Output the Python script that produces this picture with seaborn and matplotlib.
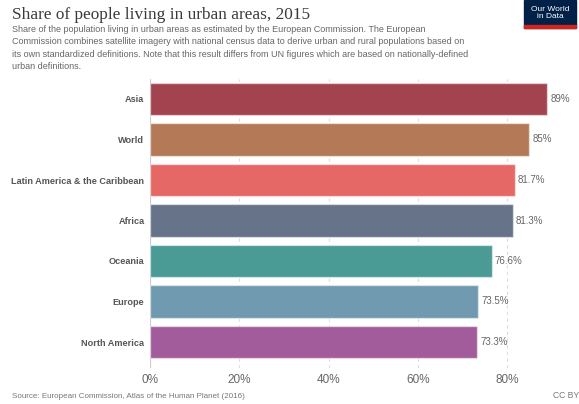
import matplotlib
matplotlib.use("Agg")
import matplotlib.pyplot as plt
import seaborn as sns
import pandas as pd
from matplotlib.patches import Rectangle

regions = ["Asia", "World", "Latin America & the Caribbean", "Africa",
           "Oceania", "Europe", "North America"]
urban_share = [89.0, 85.0, 81.7, 81.3, 76.6, 73.5, 73.3]
value_labels = ["89%", "85%", "81.7%", "81.3%", "76.6%", "73.5%", "73.3%"]
bar_colors = ["#a2434f", "#b47a58", "#e56866", "#667389",
              "#4a9a96", "#6f9ab0", "#a25c9c"]
tick_values = [0, 20, 40, 60, 80]
tick_labels = ["0%", "20%", "40%", "60%", "80%"]

df = pd.DataFrame({"region": regions, "share": urban_share})

sns.set_theme(style="white")
plt.rcParams["font.family"] = ["Liberation Sans", "DejaVu Sans"]

W, H = 579, 404
fig = plt.figure(figsize=(W / 100, H / 100), dpi=100)

# axes placement in pixel terms
left_px, right_px = 150, 555
top_px, bot_px = 79, 368
ax = fig.add_axes([left_px / W, 1 - bot_px / H,
                   (right_px - left_px) / W, (bot_px - top_px) / H])

sns.barplot(data=df, x="share", y="region", hue="region", palette=bar_colors,
            legend=False, orient="h", width=0.81, ax=ax, zorder=3,
            saturation=1, linewidth=1.0, edgecolor="#ffffff80")

px_per_unit = (507 - 150) / 80.0
ax.set_xlim(0, (right_px - left_px) / px_per_unit)
band = 40.5
ax.set_ylim((bot_px - 99) / band, (top_px - 99) / band)

for i, (v, lab) in enumerate(zip(urban_share, value_labels)):
    ax.text(v + 0.7, i, lab, va="center", ha="left", fontsize=7,
            color="#666666", clip_on=False)

ax.set_xticks(tick_values)
ax.set_xticklabels(tick_labels, fontsize=8.5, color="#666666")
ax.tick_params(axis="x", length=0, pad=4)
ax.tick_params(axis="y", length=0, pad=4)
for t in ax.get_yticklabels():
    t.set_fontweight("bold")
    t.set_fontsize(6.6)
    t.set_color("#555555")
ax.set_xlabel("")
ax.set_ylabel("")
for s in ax.spines.values():
    s.set_visible(False)
ax.grid(axis="x", color="#dddddd", linestyle=(0, (3, 3)), linewidth=0.8, zorder=0)
ax.grid(axis="y", visible=False)
ax.axvline(0, color="#cccccc", linewidth=0.8, zorder=1)

# title block
fig.text(12 / W, 1 - 15 / H, "Share of people living in urban areas, 2015",
         fontsize=12.4, family=["Liberation Serif", "DejaVu Serif"],
         color="#3a3a3a", va="center", ha="left")
subtitle = ("Share of the population living in urban areas as estimated by the European Commission. The European\n"
            "Commission combines satellite imagery with national census data to derive urban and rural populations based on\n"
            "its own standardized definitions. Note that this result differs from UN figures which are based on nationally-defined\n"
            "urban definitions.")
fig.text(12 / W, 1 - 25 / H, subtitle, fontsize=6.5, color="#666666",
         va="top", ha="left", linespacing=1.48)

# logo
lx, ly, lw, lh = 524, 0, 52, 28
fig.patches.append(Rectangle((lx / W, 1 - (ly + lh) / H), lw / W, lh / H,
                             transform=fig.transFigure, color="#002147", zorder=5))
fig.patches.append(Rectangle((lx / W, 1 - (ly + lh) / H), lw / W, 3 / H,
                             transform=fig.transFigure, color="#ce261e", zorder=6))
fig.text((lx + lw / 2) / W, 1 - 13 / H, "Our World\nin Data", fontsize=6,
         color="white", ha="center", va="center", linespacing=1.0, zorder=7)

# footer
fig.text(12 / W, 1 - 396 / H, "Source: European Commission, Atlas of the Human Planet (2016)",
         fontsize=5.8, color="#777777", va="center", ha="left")
fig.text(579 / W, 1 - 396 / H, "CC BY", fontsize=6.2, color="#777777",
         va="center", ha="right")

fig.savefig("out.png", dpi=100)
